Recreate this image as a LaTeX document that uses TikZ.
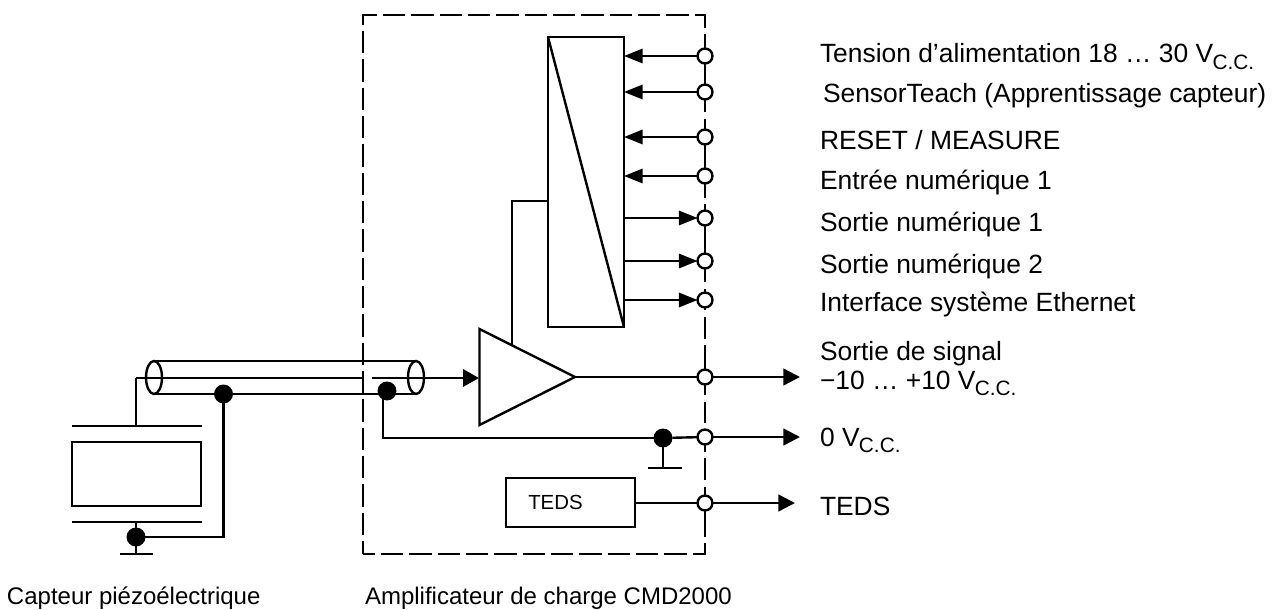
\documentclass[tikz,border=0pt]{standalone}
\usepackage{fontspec}
\setmainfont{Liberation Sans}
\usetikzlibrary{arrows.meta}
\newcommand{\subcc}{\kern-0.5pt\raisebox{-5pt}{\fontsize{15.6}{16}\selectfont C.C.}}
\tikzset{
  x=0.75pt,y=-0.75pt,
  ln/.style={line width=1.8pt,black},
  dashv/.style={line width=1.8pt,dash pattern=on 16.75pt off 4.5pt,dash phase=8.5pt},
  dashh/.style={line width=1.8pt,dash pattern=on 16.75pt off 4.5pt,dash phase=6.2pt},
  dashb/.style={line width=1.8pt,dash pattern=on 16.75pt off 4.5pt,dash phase=7.7pt},
  term/.style={circle,draw,line width=1.8pt,fill=white,minimum size=11.2pt,inner sep=0pt,outer sep=0pt},
  dotn/.style={circle,fill=black,minimum size=14.2pt,inner sep=0pt,outer sep=0pt},
  arrin/.style={ln,-{Triangle[length=14pt,width=10.7pt]}},
  arrout/.style={ln,-{Triangle[length=12.5pt,width=12.5pt]}},
  boxn/.style={draw,line width=1.8pt,inner sep=0pt,outer sep=0pt},
  lab/.style={anchor=base west,inner sep=0pt,outer sep=0pt,font=\fontsize{19.8}{22}\selectfont},
  capt/.style={anchor=base west,inner sep=0pt,outer sep=0pt,font=\fontsize{18}{20}\selectfont},
}
\begin{document}
\begin{tikzpicture}
\useasboundingbox (0,0) rectangle (1285,610);
% dashed enclosure
\draw[dashv] (363,14) -- (363,554);
\draw[dashh] (363,15) -- (705,15);
\draw[dashb] (363,554) -- (705,554);
\draw[ln] (705,14) -- (705,28) (705,34) -- (705,112) (705,119) -- (705,198)
  (705,204) -- (705,217) (705,223) -- (705,282) (705,289) -- (705,310)
  (705,317) -- (705,339) (705,345) -- (705,395) (705,402) -- (705,423)
  (705,429) -- (705,452) (705,458) -- (705,480) (705,487) -- (705,537)
  (705,543) -- (705,555);
% converter block
\node[boxn,minimum width=57pt,minimum height=217.5pt,anchor=north west] (conv) at (548,37) {};
\draw[ln] (conv.north west) -- (conv.south east);
% terminals
\node[term] (t1) at (705,56) {};
\node[term] (t2) at (705,92) {};
\node[term] (t3) at (705,137) {};
\node[term] (t4) at (705,176) {};
\node[term] (t5) at (705,218) {};
\node[term] (t6) at (705,261) {};
\node[term] (t7) at (705,300) {};
\node[term] (t8) at (705,377) {};
\node[term] (t9) at (705,437) {};
\node[term] (t10) at (705,503) {};
% converter arrows
\foreach \n/\y in {t1/56,t2/92,t3/137,t4/176}
  \draw[arrin] (\n.west) -- (conv.east |- 0,\y);
\foreach \n/\y in {t5/218,t6/261,t7/300}
  \draw[arrin] (conv.east |- 0,\y) -- (\n.west);
% amplifier
\coordinate (ampT) at (479.5,329);
\coordinate (ampB) at (479.5,425);
\coordinate (ampO) at (575,377);
\draw[ln,line join=miter] (ampT) -- (ampO) -- (ampB) -- cycle;
\coordinate (fbk) at (512,345);
\draw[ln] (conv.west |- 0,201) -| (fbk);
\draw[ln] (ampO) -- (t8.west);
% outputs
\coordinate (o8) at (800,377);
\coordinate (o9) at (800,437);
\coordinate (o10) at (795,503);
\draw[arrout] (t8.east) -- (o8);
\draw[arrout] (t9.east) -- (o9);
\draw[arrout] (t10.east) -- (o10);
% TEDS
\node[boxn,minimum width=96.75pt,minimum height=36.75pt] (teds) at (570.5,502.5) {};
\node[anchor=base west,inner sep=0pt,font=\fontsize{15.3}{16}\selectfont] (tedst) at (528,509) {TEDS};
\draw[ln] (teds.east |- t10) -- (t10.west);
% cable
\coordinate (cLt) at (154,361);
\coordinate (cLb) at (154,394);
\coordinate (cRt) at (416,361);
\coordinate (cRb) at (416,394);
\draw[ln] (cLt) -- (cRt);
\draw[ln] (cLb) -- (cRb);
\draw[ln] (154,377.5) ellipse (8 and 16.5);
\draw[ln] (416,377.5) ellipse (8 and 16.5);
\coordinate (wireL) at (136,378);
\coordinate (wireGap) at (362,378);
\coordinate (wireR) at (372,378);
\coordinate (ampI) at (479,378);
\draw[ln] (wireL) -- (wireGap);
\draw[ln,-{Triangle[length=12pt,width=13pt]}] (wireR) -- (ampI);
% sensor
\coordinate (pTl) at (71.5,426);
\coordinate (pTr) at (201.5,426);
\coordinate (pBl) at (71.5,522);
\coordinate (pBr) at (201.5,522);
\draw[ln] (pTl) -- (pTr);
\draw[ln] (pBl) -- (pBr);
\node[boxn,minimum width=96.75pt,minimum height=48pt] (sens) at (136.5,474) {};
\draw[ln] (136,426) -- (wireL);
\node[dotn] (d1) at (136,537) {};
\node[dotn] (d2) at (223.5,394) {};
\node[dotn] (d3) at (387,391) {};
\node[dotn] (d4) at (663,438) {};
\coordinate (g1l) at (120,554);
\coordinate (g1r) at (153,554);
\coordinate (g1) at (136,554);
\draw[ln] (136,522) -- (d1) -- (g1);
\draw[ln] (g1l) -- (g1r);
\draw[ln] (d2) |- (d1);
\draw[ln] (383,391) |- (d4);
\draw[ln] (d4) -- (t9);
\coordinate (g2) at (663,468);
\draw[ln] (d4) -- (g2);
\draw[ln] (648,468) -- (682,468);
% labels
\node[lab] (l1) at (820,63) {Tension d’alimentation 18 … 30 V\subcc};
\node[lab] (l2) at (823,103) {SensorTeach (Apprentissage capteur)};
\node[lab] (l3) at (820,149) {RESET / MEASURE};
\node[lab] (l4) at (820,189) {Entrée numérique 1};
\node[lab] (l5) at (820,231) {Sortie numérique 1};
\node[lab] (l6) at (820,273) {Sortie numérique 2};
\node[lab] (l7) at (820,311) {Interface système Ethernet};
\node[lab] (l8) at (820,360) {Sortie de signal};
\node[lab] (l9) at (820,389) {−10 … +10 V\subcc};
\node[lab] (l10) at (820,446) {0 V\subcc};
\node[lab] (l11) at (820,515) {TEDS};
\node[capt] (l12) at (7,604) {Capteur piézoélectrique};
\node[capt] (l13) at (365,604) {Amplificateur de charge CMD2000};
\end{tikzpicture}
\end{document}
